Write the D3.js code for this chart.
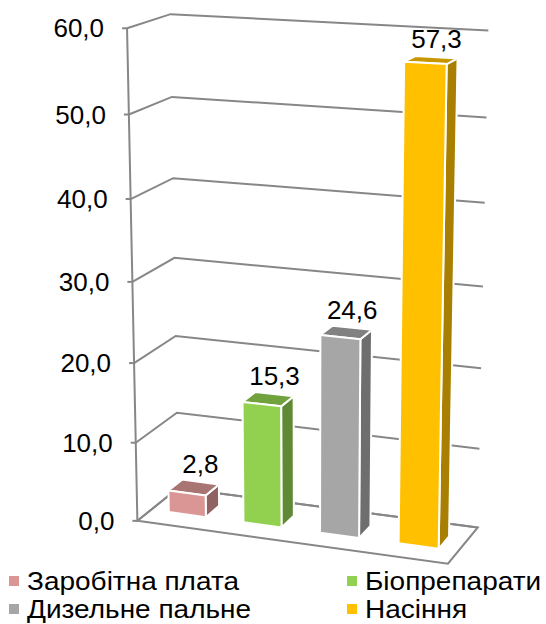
<!DOCTYPE html>
<html><head><meta charset="utf-8">
<script src="https://cdn.jsdelivr.net/npm/d3@7"></script>
<style>
body{margin:0;background:#fff;}
text{font-family:"Liberation Sans",Arial,sans-serif;fill:#000;}
</style>
</head><body>
<svg id="c" width="546" height="624"></svg>
<script>
// ---- data ----
const categories = ["Заробітна плата", "Біопрепарати", "Дизельне пальне", "Насіння"];
const values = [2.8, 15.3, 24.6, 57.3];
const valueLabels = ["2,8", "15,3", "24,6", "57,3"];
const yTicks = [0, 10, 20, 30, 40, 50, 60];
const tickLabels = ["0,0", "10,0", "20,0", "30,0", "40,0", "50,0", "60,0"];
const colors = ["#D99694", "#92D050", "#A6A6A6", "#FFC000"];

// ---- layout: perspective calibration of the 3D box (world X 0..1 across, Y 0..1 up, Z 0..1 depth) ----
const calib = [
  [0,1,0,127,28],[0,5/6,0,130,115],[0,4/6,0,130,199],[0,3/6,0,132,282],[0,1/6,0,135,442],[0,0,0,138,521],
  [0,1,1,170,14],[0,5/6,1,172,97],[0,4/6,1,174,178],[0,3/6,1,174,258],[0,1/6,1,177,413],
  [1,1,1,488,31],[1,5/6,1,487,117],[1,1/6,1,479,449],[1,0,1,478,527],
  [1,0,0,448,564]
];
function solve(A, b) {
  const n = b.length, M = A.map((r, i) => [...r, b[i]]);
  for (let c = 0; c < n; c++) {
    let p = c;
    for (let r = c + 1; r < n; r++) if (Math.abs(M[r][c]) > Math.abs(M[p][c])) p = r;
    [M[c], M[p]] = [M[p], M[c]];
    for (let r = 0; r < n; r++) {
      if (r === c) continue;
      const f = M[r][c] / M[c][c];
      for (let k = c; k <= n; k++) M[r][k] -= f * M[c][k];
    }
  }
  return M.map((r, i) => r[n] / r[i]);
}
const S = 300;
const NM = Array.from({length: 11}, () => Array(11).fill(0)), NB = Array(11).fill(0);
for (const [X, Y, Z, u0, v0] of calib) {
  const u = (u0 - S) / S, v = (v0 - S) / S;
  const ru = [X, Y, Z, 1, 0, 0, 0, 0, -u*X, -u*Y, -u*Z];
  const rv = [0, 0, 0, 0, X, Y, Z, 1, -v*X, -v*Y, -v*Z];
  for (const [r, t] of [[ru, u], [rv, v]]) {
    for (let i = 0; i < 11; i++) {
      NB[i] += r[i] * t;
      for (let j = 0; j < 11; j++) NM[i][j] += r[i] * r[j];
    }
  }
}
const P = solve(NM, NB);
function proj(X, Y, Z) {
  const w = P[8]*X + P[9]*Y + P[10]*Z + 1;
  return [S + S*(P[0]*X + P[1]*Y + P[2]*Z + P[3]) / w, S + S*(P[4]*X + P[5]*Y + P[6]*Z + P[7]) / w];
}

// ---- scales ----
const x = d3.scaleBand().domain(categories).range([0, 1]).paddingInner(0.5).paddingOuter(0.24);
const y = d3.scaleLinear().domain([0, 60]).range([0, 1]);
const zFront = 0.33, zBack = 0.67;

const svg = d3.select("#c");
const line = d3.line();
const gridColor = "#878787";
const FS = 26;

// gridlines on side and back walls
const grid = svg.append("g");
yTicks.forEach(t => {
  const Y = y(t);
  grid.append("path")
    .attr("d", line([proj(0, Y, 0), proj(0, Y, 1), proj(1, Y, 1)]))
    .attr("fill", "none").attr("stroke", gridColor).attr("stroke-width", 2);
});
// floor
grid.append("path")
  .attr("d", line([proj(0,0,0), proj(1,0,0), proj(1,0,1), proj(0,0,1)]) + "Z")
  .attr("fill", "none").attr("stroke", gridColor).attr("stroke-width", 2);
// vertical axis
grid.append("path")
  .attr("d", line([proj(0,0,0), proj(0,1,0)]))
  .attr("fill", "none").attr("stroke", gridColor).attr("stroke-width", 2);
yTicks.forEach((t, i) => {
  const [ax, ay] = proj(0, y(t), 0);
  grid.append("line").attr("x1", ax - 5).attr("x2", ax).attr("y1", ay).attr("y2", ay)
    .attr("stroke", gridColor).attr("stroke-width", 2);
  svg.append("text").attr("x", ax - 23).attr("y", ay).attr("dy", "0.35em")
    .attr("text-anchor", "end").attr("font-size", FS).text(tickLabels[i]);
});

// bars
function shade(c, k) { const o = d3.rgb(c); return d3.rgb(o.r * k, o.g * k, o.b * k).formatHex(); }
const bars = svg.append("g");
categories.map((c, i) => i).reverse().forEach(i => {
  const x0 = x(categories[i]), x1 = x0 + x.bandwidth(), Y = y(values[i]);
  const g = bars.append("g").attr("stroke", "#fff").attr("stroke-width", 2).attr("stroke-linejoin", "round");
  g.append("path").attr("fill", shade(colors[i], 0.66))
    .attr("d", line([proj(x1,0,zFront), proj(x1,0,zBack), proj(x1,Y,zBack), proj(x1,Y,zFront)]) + "Z");
  g.append("path").attr("fill", shade(colors[i], 0.78))
    .attr("d", line([proj(x0,Y,zFront), proj(x1,Y,zFront), proj(x1,Y,zBack), proj(x0,Y,zBack)]) + "Z");
  g.append("path").attr("fill", colors[i])
    .attr("d", line([proj(x0,0,zFront), proj(x1,0,zFront), proj(x1,Y,zFront), proj(x0,Y,zFront)]) + "Z");
});
// value labels
categories.forEach((c, i) => {
  const [lx, ly] = proj(x(c) + x.bandwidth() / 2, y(values[i]), zBack);
  svg.append("text").attr("x", lx).attr("y", ly - 9).attr("text-anchor", "middle")
    .attr("font-size", FS).text(valueLabels[i]);
});

// legend
const legendOrder = [0, 1, 2, 3];
const legCols = [9, 347], legRows = [590, 618];
legendOrder.forEach((i, k) => {
  const lx = legCols[k % 2], ly = legRows[Math.floor(k / 2)];
  svg.append("rect").attr("x", lx).attr("y", ly - 14).attr("width", 10).attr("height", 10).attr("fill", colors[i]);
  svg.append("text").attr("transform", `translate(${lx + 18},${ly}) scale(1.12,1)`)
    .attr("font-size", 25).text(categories[i]);
});
</script>
</body></html>
